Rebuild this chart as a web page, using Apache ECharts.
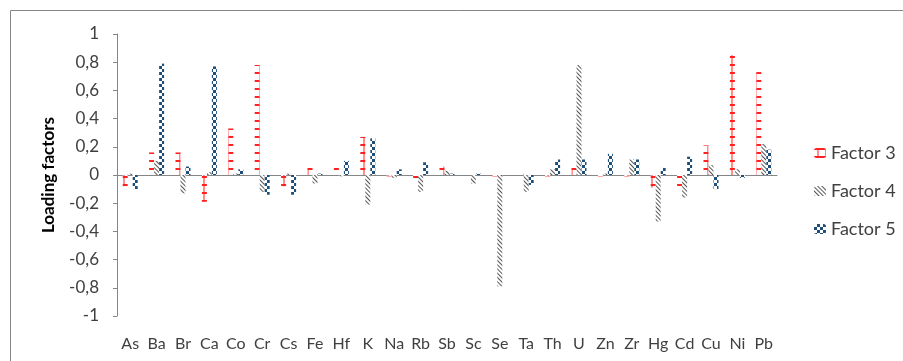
<!DOCTYPE html>
<html>
<head>
<meta charset="utf-8">
<script src="https://cdn.jsdelivr.net/npm/echarts@6/dist/echarts.min.js"></script>
<style>
  html, body { margin: 0; padding: 0; background: #fff; }
  #chartMount { width: 903px; height: 361px; }
</style>
</head>
<body>
<div id="chartMount"></div>
<script>
  // 元素
  var elements = ['As','Ba','Br','Ca','Co','Cr','Cs','Fe','Hf','K','Na','Rb','Sb','Sc','Se','Ta','Th','U','Zn','Zr','Hg','Cd','Cu','Ni','Pb'];
  var factor3 = [-0.08,0.16,0.16,-0.19,0.33,0.78,-0.08,0.05,0.05,0.27,-0.01,-0.03,0.06,0,-0.01,0.01,-0.01,0.05,-0.01,-0.01,-0.09,-0.12,0.21,0.85,0.73];
  var factor4 = [0.01,0.1,-0.13,0.02,0.01,-0.12,0.01,-0.06,-0.01,-0.21,-0.02,-0.12,0.03,-0.06,-0.79,-0.12,0.04,0.78,0.01,0.11,-0.33,-0.16,0.07,0.04,0.22];
  var factor5 = [-0.1,0.79,0.06,0.77,0.04,-0.14,-0.14,0.01,0.1,0.26,0.04,0.09,0.01,0.01,0,-0.07,0.11,0.11,0.15,0.11,0.05,0.13,-0.1,-0.02,0.18];
  var yTicks = [-1,-0.8,-0.6,-0.4,-0.2,0,0.2,0.4,0.6,0.8,1];

  var app = echarts.init(document.getElementById('chartMount'));
  var txt = '#404040', axisCol = '#868686', font = 'Lato';

  // Excel 风格的图案填充
  var decal3 = { symbol: 'path://M0,0H8V2H0Z M3.5,0H4.5V8H3.5Z', symbolSize: 1, symbolKeepAspect: false, color: '#ff2020', backgroundColor: null, dashArrayX: [8, 0], dashArrayY: [8, 0] };
  var decal4 = { symbol: 'rect', symbolSize: 1, color: '#555', backgroundColor: null, dashArrayX: [1, 0], dashArrayY: [1, 2], rotation: Math.PI / 4 };
  var decal5 = { symbol: 'rect', symbolSize: 1, color: '#1f4e79', backgroundColor: null, dashArrayX: [[3, 3], [0, 3, 3, 0]], dashArrayY: [3, 0] };

  function bar(name, data, decal) {
    return {
      name: name, type: 'bar', data: data, barWidth: 5, barGap: '0%',
      xAxisIndex: 0,
      itemStyle: { color: '#fff', decal: decal }
    };
  }

  var option = {
    animation: false,
    textStyle: { fontFamily: font },
    graphic: [{ type: 'rect', shape: { x: 10.5, y: 10.5, width: 900, height: 400 }, style: { fill: null, stroke: axisCol, lineWidth: 1 } }],
    grid: { left: 117, top: 34, right: 126, bottom: 45 },
    legend: {
      orient: 'vertical', left: 809, top: 139, itemWidth: 12, itemHeight: 10, itemGap: 20,
      textStyle: { fontSize: 18, color: txt, fontFamily: font },
      data: ['Factor 3', 'Factor 4', 'Factor 5']
    },
    xAxis: [{
      type: 'category', data: elements, position: 'bottom',
      axisLine: { show: false, onZero: false }, axisTick: { show: false },
      axisLabel: { color: txt, fontSize: 16, margin: 20, interval: 0, fontFamily: font }
    }, {
      type: 'category', data: elements,
      axisLine: { show: true, onZero: true, lineStyle: { color: axisCol } },
      axisTick: { show: false }, axisLabel: { show: false }
    }],
    yAxis: {
      type: 'value', min: -1, max: 1, interval: 0.2,
      name: 'Loading factors', nameLocation: 'middle', nameGap: 60,
      nameTextStyle: { fontWeight: 'bold', fontSize: 17, color: '#000', fontFamily: font },
      axisLine: { show: true, lineStyle: { color: axisCol } },
      axisTick: { show: true, length: 4, lineStyle: { color: axisCol } },
      splitLine: { show: false },
      axisLabel: {
        color: txt, fontSize: 17, margin: 18, fontFamily: font,
        formatter: function (v) {
          var t = yTicks.reduce(function (a, b) { return Math.abs(b - v) < Math.abs(a - v) ? b : a; });
          return String(Math.round(t * 10) / 10).replace('.', ',');
        }
      }
    },
    series: [bar('Factor 3', factor3, decal3), bar('Factor 4', factor4, decal4), bar('Factor 5', factor5, decal5)]
  };

  app.setOption(option);
</script>
</body>
</html>
